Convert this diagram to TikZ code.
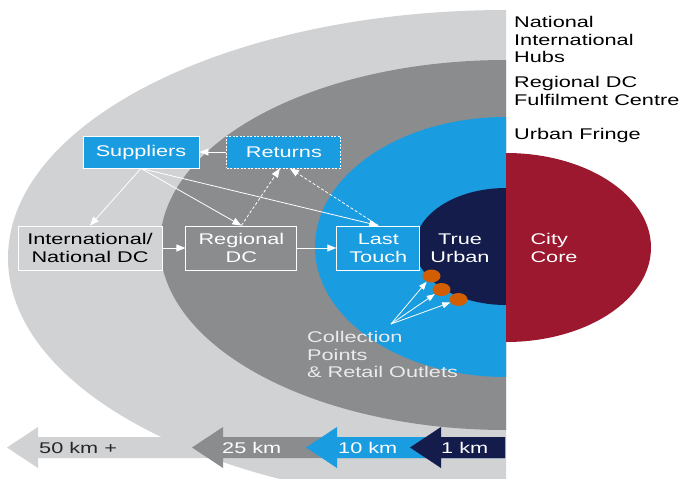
\documentclass[tikz,border=0pt]{standalone}
\usepackage{fontspec}
\setmainfont{Liberation Sans}[FakeStretch=1.4]
\usetikzlibrary{arrows.meta,positioning,shapes.geometric}
\definecolor{pale}{HTML}{D1D2D4}
\definecolor{steel}{HTML}{8B8C8E}
\definecolor{sky}{HTML}{1A9CE0}
\definecolor{ink}{HTML}{141C4C}
\definecolor{wine}{HTML}{9B182E}
\definecolor{rust}{HTML}{D25E04}
\tikzstyle{box}=[rectangle,draw=white,line width=0.9pt,inner sep=0pt,align=center]
\tikzstyle{blue box}=[box,fill=sky,text=white,minimum height=32pt]
\tikzstyle{grey box}=[box,fill=steel,text=white,minimum height=44pt]
\tikzstyle{pale box}=[box,fill=pale,text=black,minimum height=44pt]
\tikzstyle{flow}=[-{Triangle[length=9pt,width=7pt]},white,line width=0.8pt]
\tikzstyle{back flow}=[flow,dash pattern=on 3pt off 2pt]
\tikzstyle{outlet}=[ellipse,fill=rust,minimum width=18pt,minimum height=13pt,inner sep=0pt]
\tikzstyle{zone}=[anchor=north west,inner sep=0pt,align=left]
\tikzstyle{km}=[anchor=west,inner sep=0pt,text=white]

\begin{document}
\begin{tikzpicture}[x=1pt,y=-1pt,font=\fontsize{15.5}{17.7}\selectfont]
\useasboundingbox (0,0) rectangle (683,479);

% distance rings, cut at the city edge
\begin{scope}
  \clip (0,0) rectangle (506,479);
  \fill[pale] (506,258) ellipse [x radius=498pt, y radius=248pt];
  \fill[steel] (506,245) ellipse [x radius=346pt, y radius=185pt];
  \fill[sky] (506,247) ellipse [x radius=191pt, y radius=130pt];
  \fill[ink] (506,246.5) ellipse [x radius=91pt, y radius=58.5pt];
\end{scope}
\begin{scope}
  \clip (506,0) rectangle (683,479);
  \fill[wine] (506,247.5) ellipse [x radius=145pt, y radius=94.5pt];
\end{scope}

% distance scale
\foreach \tip/\col in {7/pale,192/steel,306/sky,410/ink}
  \fill[\col] (\tip,447.5) -- (\tip+31,427) -- (\tip+31,437) -- (505,437)
    -- (505,458) -- (\tip+31,458) -- (\tip+31,468) -- cycle;
\node[km,text=black!85] (k50) at (39,447.5) {50 km +};
\node[km] (k25) at (222,447.5) {25 km};
\node[km] (k10) at (338,447.5) {10 km};
\node[km] (k1) at (441,447.5) {1 km};

% zone names
\node[zone] (hubs) at (514,16) {National\\International\\Hubs};
\node[zone] (fulfil) at (514,76) {Regional DC\\Fulfilment Centre};
\node[zone] (fringe) at (514,128) {Urban Fringe};

% supply chain
\node[blue box,minimum width=116pt] (sup) at (141,152) {Suppliers};
\node[blue box,minimum width=114pt,dash pattern=on 2pt off 1.5pt,right=27pt of sup] (ret) {Returns};
\node[pale box,minimum width=144pt,align=center] (intl) at (90,248) {International/\\National DC};
\node[grey box,minimum width=111pt,right=23pt of intl] (reg) {Regional\\DC};
\node[blue box,minimum width=83pt,minimum height=44pt,right=39pt of reg] (last) {Last\\Touch};
\node[text=white,align=center] (urban) at (460,248) {True\\Urban};
\node[text=white,align=left,anchor=west] (core) at (527,248) {City\\Core};

\draw[flow] (ret) -- (sup);
\draw[flow] (sup.south) -- (intl.north);
\draw[flow] (sup.south) -- (reg.north);
\draw[flow] (sup.south) -- (last.north);
\draw[flow] (intl) -- (reg);
\draw[flow] (reg) -- (last);
\draw[back flow] (reg.north) -- ([xshift=-4pt]ret.south);
\draw[back flow] (last.north) -- ([xshift=6pt]ret.south);

% collection points
\node[outlet] (d1) at (431.5,276) {};
\node[outlet] (d2) at (441.5,289.5) {};
\node[outlet] (d3) at (458.5,299.5) {};
\coordinate (cp) at (391,324);
\foreach \d in {d1,d2,d3}
  \draw[flow,-{Triangle[length=8pt,width=6pt]}] (cp) -- (\d);
\node[zone,text=white!92!black] (outlets) at (307,331) {Collection\\Points\\\& Retail Outlets};
\end{tikzpicture}
\end{document}
